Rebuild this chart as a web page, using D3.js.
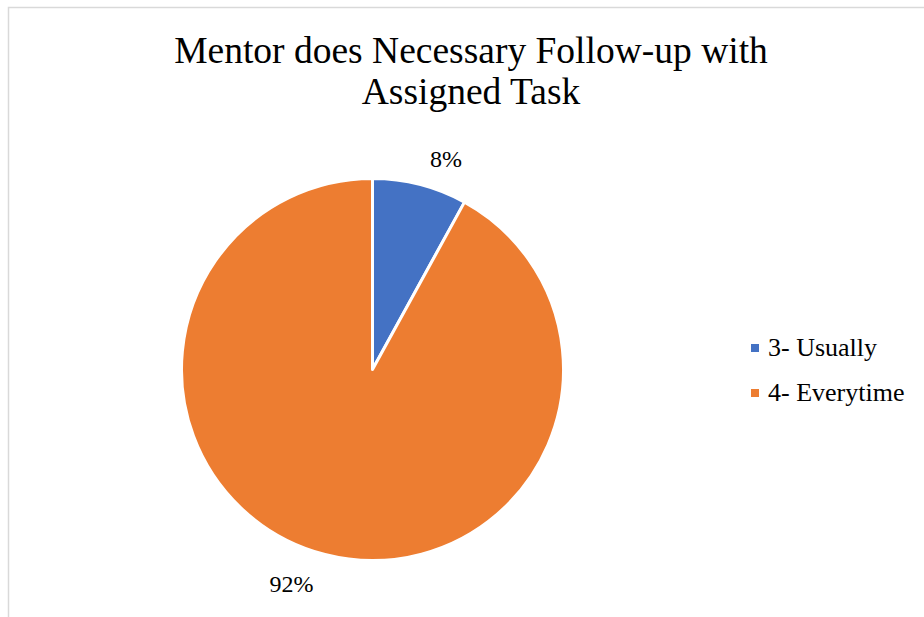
<!DOCTYPE html>
<html><head><meta charset="utf-8">
<script src="https://cdn.jsdelivr.net/npm/d3@7"></script>
<style>body{margin:0;background:#fff}svg{display:block}</style>
</head><body>
<script>
const categories = ["3- Usually", "4- Everytime"];
const values = [8, 92];
const labels = ["8%", "92%"];
const colors = ["#4472c4", "#ed7d31"];
const titleLines = ["Mentor does Necessary Follow-up with", "Assigned Task"];

const W = 924, H = 617;
const FONT = '"Liberation Serif"';
const svg = d3.select("body").append("svg").attr("width", W).attr("height", H);
svg.append("rect").attr("x", 8.5).attr("y", 7.5).attr("width", W).attr("height", H)
  .attr("fill", "#fff").attr("stroke", "#d9d9d9").attr("stroke-width", 1.5);

svg.append("g").selectAll("text").data(titleLines).join("text")
  .attr("x", 471).attr("y", (d, i) => 63 + i * 41)
  .attr("text-anchor", "middle").attr("font-size", 37.5).style("font-family", FONT)
  .attr("fill", "#000").text(d => d);

const cx = 372.5, cy = 369.5, r = 191;
const pie = d3.pie().sort(null).value(d => d);
const arcs = pie(values);
const arc = d3.arc().innerRadius(0).outerRadius(r);
const g = svg.append("g").attr("transform", `translate(${cx},${cy})`);
g.selectAll("path").data(arcs).join("path")
  .attr("d", arc).attr("fill", (d, i) => colors[i])
  .attr("stroke", "#fff").attr("stroke-width", 3).attr("stroke-linejoin", "round");

// outside-end label placement (angle nudge mimics the spreadsheet's best-fit)
const labelNudge = [0.084, 0.11];
const labelRadius = [223, 229];
g.selectAll("text.lbl").data(arcs).join("text").attr("class", "lbl")
  .each(function (d, i) {
    const a = (d.startAngle + d.endAngle) / 2 + labelNudge[i];
    d3.select(this)
      .attr("x", labelRadius[i] * Math.sin(a))
      .attr("y", -labelRadius[i] * Math.cos(a));
  })
  .attr("text-anchor", "middle").attr("dy", "0.35em")
  .attr("font-size", 24).style("font-family", FONT).attr("fill", "#000")
  .text((d, i) => labels[i]);

const leg = svg.append("g").selectAll("g").data(categories).join("g")
  .attr("transform", (d, i) => `translate(751,${344 + i * 45})`);
leg.append("rect").attr("width", 8).attr("height", 8).attr("fill", (d, i) => colors[i]);
leg.append("text").attr("x", 17).attr("y", 12)
  .attr("font-size", 26).style("font-family", FONT).attr("fill", "#000").text(d => d);
</script>
</body></html>
